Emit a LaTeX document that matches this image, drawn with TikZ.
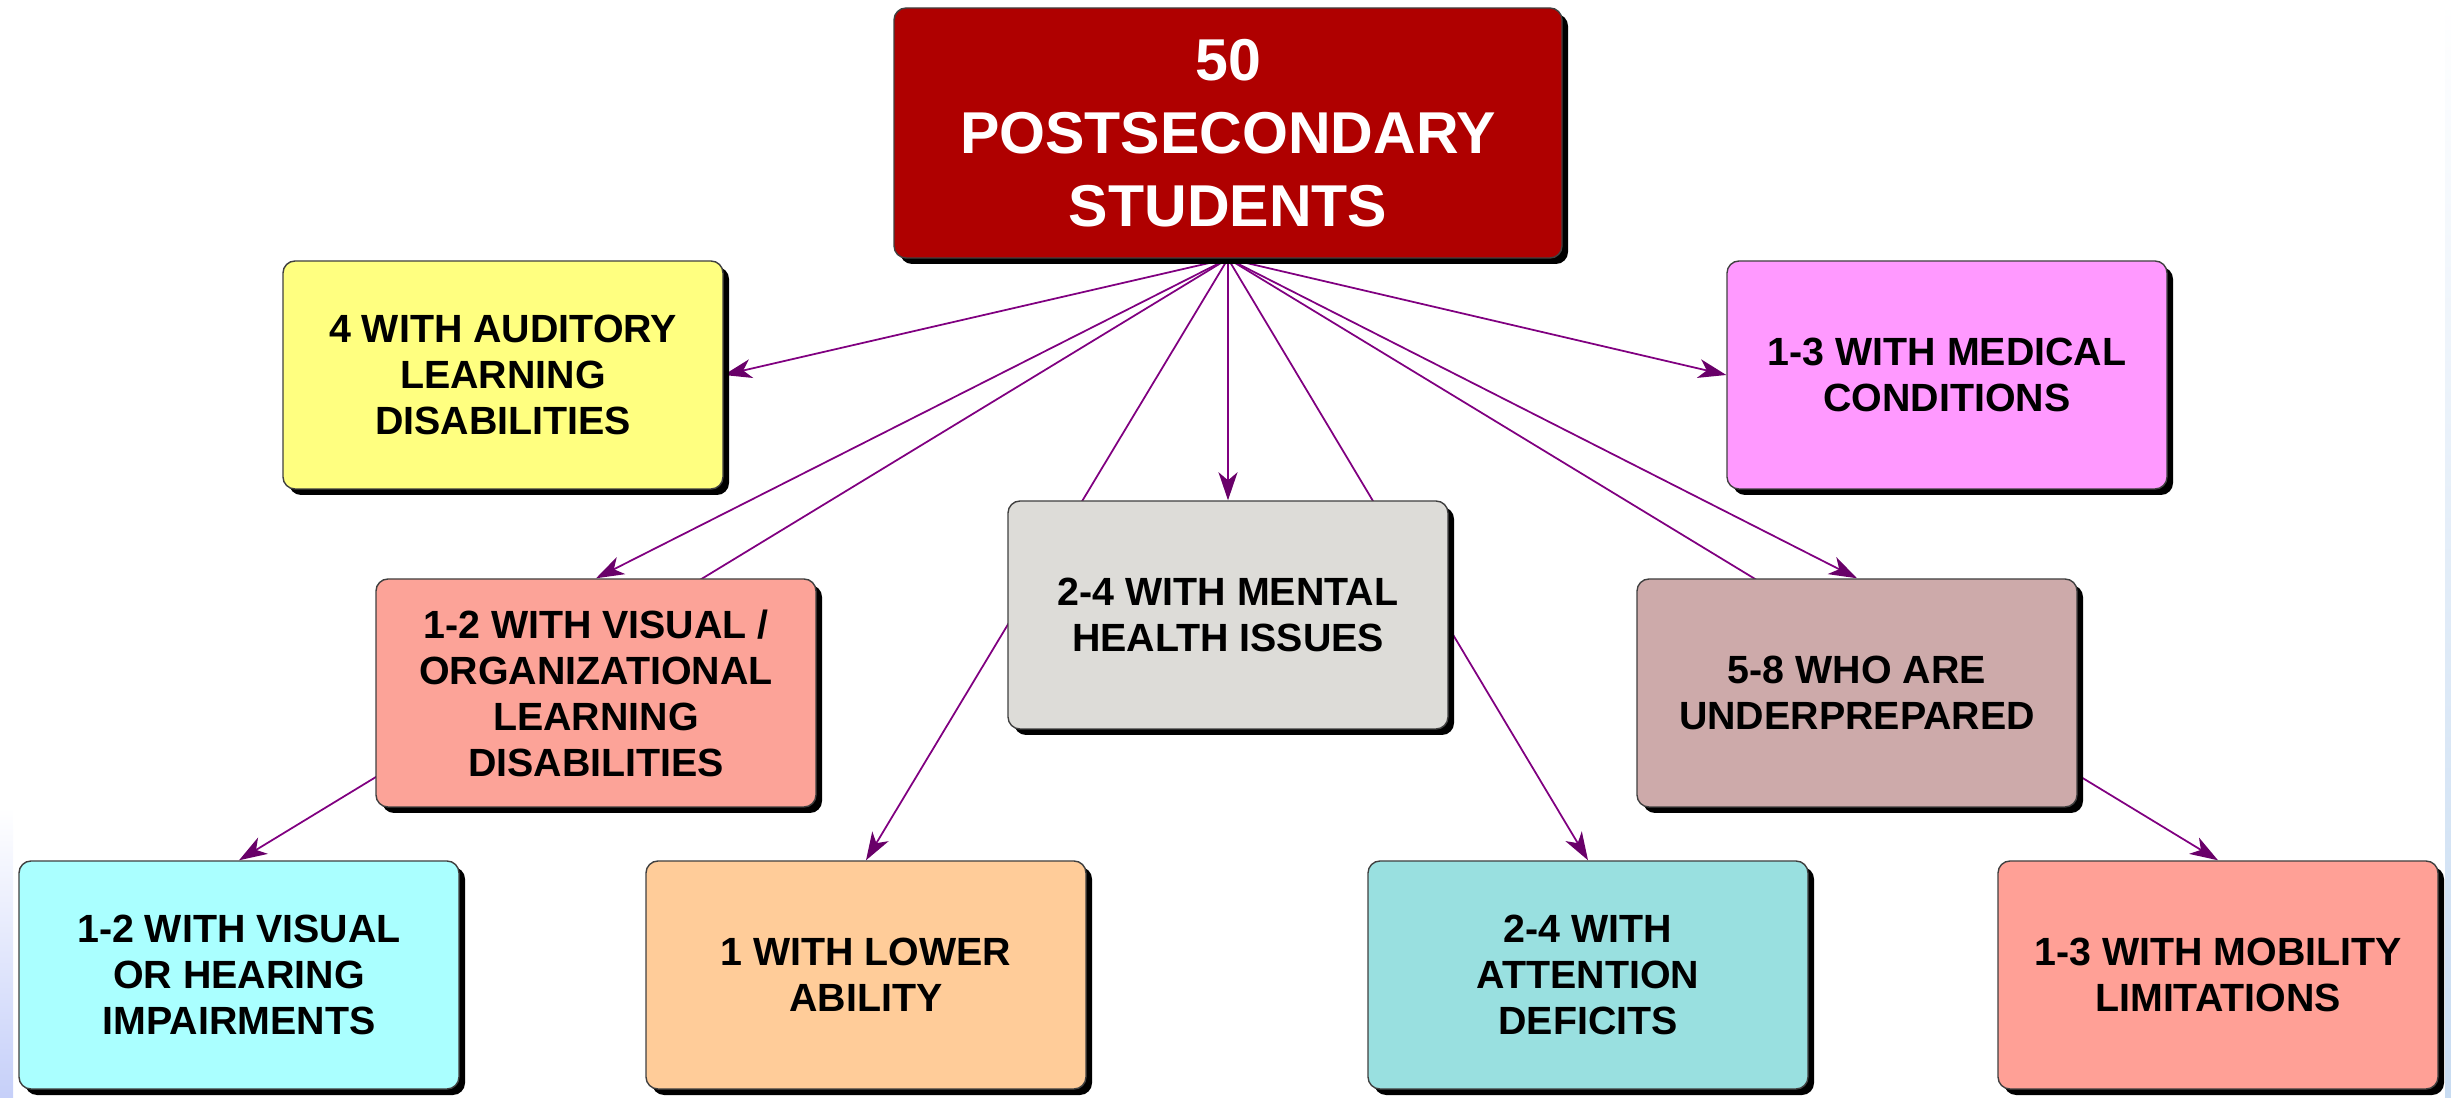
\documentclass[tikz,border=0pt]{standalone}
\usepackage{fontspec}
\setmainfont{Liberation Sans}
\usetikzlibrary{arrows.meta,shadows,backgrounds}

\definecolor{topred}{RGB}{175,0,0}
\definecolor{audyellow}{RGB}{255,255,128}
\definecolor{medpink}{RGB}{255,153,255}
\definecolor{visorgsalmon}{RGB}{252,163,152}
\definecolor{mentalgray}{RGB}{221,220,216}
\definecolor{underrose}{RGB}{205,170,170}
\definecolor{vishearcyan}{RGB}{170,255,255}
\definecolor{lowerpeach}{RGB}{255,204,153}
\definecolor{attnteal}{RGB}{153,224,224}
\definecolor{mobilsalmon}{RGB}{255,160,150}
\definecolor{linkpurple}{RGB}{128,0,128}
\definecolor{headpurple}{RGB}{105,0,105}
\definecolor{edgeblue}{RGB}{200,220,242}

\begin{document}
\begin{tikzpicture}[
		box/.style = {draw = black!75, rounded corners = 1.2mm, align = center,
			minimum width = 4.4cm, minimum height = 2.28cm, inner sep = 0pt,
			font = \fontsize{11.2}{13.1}\selectfont\bfseries,
			drop shadow = {fill = black, opacity = 1, shadow xshift = 0.6mm, shadow yshift = -0.6mm}},
		link/.style = {draw = linkpurple, line width = 0.5pt,
			-{Stealth[length = 2.8mm, width = 1.9mm, inset = 0.8mm, color = headpurple]}}
	]
	\useasboundingbox (0,0) rectangle (24.51,10.97);
	
	\node[box, fill = topred, text = white, minimum width = 6.68cm, minimum height = 2.5cm,
		font = \fontsize{16.8}{20.7}\selectfont\bfseries] (top) at (12.28,9.64) {50\\POSTSECONDARY\\STUDENTS};
	
	\node[box, fill = audyellow] (aud) at (5.03,7.22) {4 WITH AUDITORY\\LEARNING\\DISABILITIES};
	\node[box, fill = medpink] (med) at (19.47,7.22) {1-3 WITH MEDICAL\\CONDITIONS};
	
	\node[box, fill = visorgsalmon] (visorg) at (5.96,4.04) {1-2 WITH VISUAL /\\ORGANIZATIONAL\\LEARNING\\DISABILITIES};
	\node[box, fill = mentalgray] (mental) at (12.28,4.82) {2-4 WITH MENTAL\\HEALTH ISSUES};
	\node[box, fill = underrose] (under) at (18.57,4.04) {5-8 WHO ARE\\UNDERPREPARED};
	
	\node[box, fill = vishearcyan] (vishear) at (2.39,1.22) {1-2 WITH VISUAL\\OR HEARING\\IMPAIRMENTS};
	\node[box, fill = lowerpeach] (lower) at (8.66,1.22) {1 WITH LOWER\\ABILITY};
	\node[box, fill = attnteal] (attn) at (15.88,1.22) {2-4 WITH\\ATTENTION\\DEFICITS};
	\node[box, fill = mobilsalmon] (mobil) at (22.18,1.22) {1-3 WITH MOBILITY\\LIMITATIONS};
	
	\begin{pgfonlayer}{background}
		% slide edges
		\shade[top color = white, bottom color = edgeblue] (24.45,0) rectangle (24.51,10.97);
		\shade[top color = white, bottom color = edgeblue!80!blue!60] (0,0) rectangle (0.13,2.9);
		
		% links run behind the boxes
		\draw[link] (top.south) -- (aud.east);
		\draw[link] (top.south) -- (med.west);
		\draw[link] (top.south) -- (visorg.north);
		\draw[link] (top.south) -- (mental.north);
		\draw[link] (top.south) -- (under.north);
		\draw[link] (top.south) -- (vishear.north);
		\draw[link] (top.south) -- (lower.north);
		\draw[link] (top.south) -- (attn.north);
		\draw[link] (top.south) -- (mobil.north);
	\end{pgfonlayer}
\end{tikzpicture}
\end{document}
